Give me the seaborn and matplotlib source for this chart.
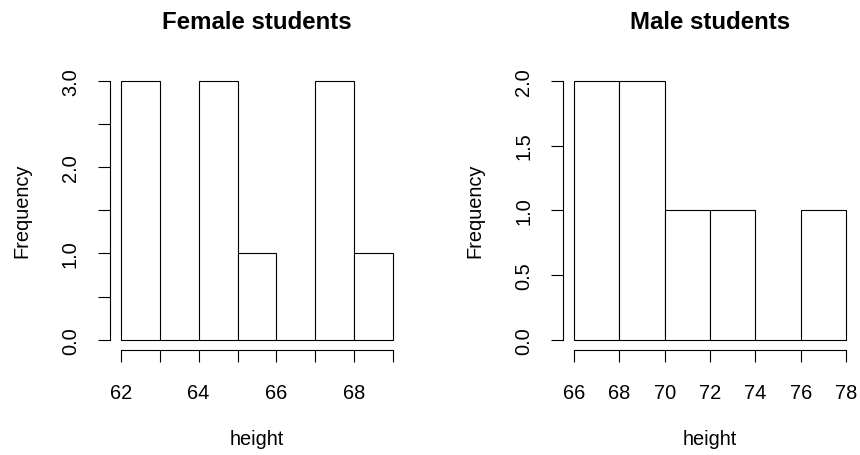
import numpy as np
import pandas as pd
import matplotlib
matplotlib.use("Agg")
import matplotlib.pyplot as plt
import seaborn as sns

# =========================================================
# DATA
# =========================================================

female_edges  = [62, 63, 64, 65, 66, 67, 68, 69]
female_counts = [3, 0, 3, 1, 0, 3, 1]

male_edges  = [66, 68, 70, 72, 74, 76, 78]
male_counts = [2, 2, 1, 1, 0, 1]

female_yticks = [0.0, 0.5, 1.0, 1.5, 2.0, 2.5, 3.0]
female_ylabels = ["0.0", "", "1.0", "", "2.0", "", "3.0"]
female_xticks = [62, 63, 64, 65, 66, 67, 68, 69]
female_xlabels = ["62", "", "64", "", "66", "", "68", ""]

male_yticks = [0.0, 0.5, 1.0, 1.5, 2.0]
male_ylabels = ["0.0", "0.5", "1.0", "1.5", "2.0"]
male_xticks = [66, 68, 70, 72, 74, 76, 78]
male_xlabels = ["66", "68", "70", "72", "74", "76", "78"]

# =========================================================
# STYLE
# =========================================================

sns.set_style("ticks")
plt.rcParams["font.family"] = ["Liberation Sans", "DejaVu Sans"]
plt.rcParams["font.size"] = 14.4
for key in ["text.color", "axes.labelcolor", "xtick.color", "ytick.color",
            "xtick.labelcolor", "ytick.labelcolor"]:
    plt.rcParams[key] = "black"

fig = plt.figure(figsize=(8.6, 4.56), dpi=100)
ax_f = fig.add_axes([0.1279, 0.2303, 0.3419, 0.6127])
ax_m = fig.add_axes([0.6547, 0.2303, 0.3419, 0.6127])


def r_hist(ax, edges, counts, title, yticks, ylabels, xticks, xlabels):
    mids = [(a + b) / 2 for a, b in zip(edges[:-1], edges[1:])]
    df = pd.DataFrame({"height": mids, "n": counts})
    sns.histplot(
        data=df, x="height", weights="n", bins=edges, ax=ax,
        color="white", edgecolor="black", linewidth=0.8, alpha=1,
    )

    # R style: 4% padding, detached axes
    xr = edges[-1] - edges[0]
    yr = max(counts)
    ax.set_xlim(edges[0] - 0.04 * xr, edges[-1] + 0.04 * xr)
    ax.set_ylim(-0.04 * yr, yr * 1.04)

    for s in ["top", "right"]:
        ax.spines[s].set_visible(False)
    ax.spines["left"].set_bounds(yticks[0], yticks[-1])
    ax.spines["bottom"].set_bounds(xticks[0], xticks[-1])
    for s in ["left", "bottom"]:
        ax.spines[s].set_linewidth(0.8)
        ax.spines[s].set_color("black")

    ax.set_xticks(xticks)
    ax.set_xticklabels(xlabels)
    ax.set_yticks(yticks)
    ax.set_yticklabels(ylabels, rotation=90, va="center")
    ax.tick_params(axis="both", length=8.6, width=0.8, color="black",
                   labelcolor="black", labelsize=14.4)
    ax.tick_params(axis="x", pad=15)
    ax.tick_params(axis="y", pad=13)

    ax.set_xlabel("height", fontsize=14.4, color="black")
    ax.xaxis.set_label_coords(0.5, -0.318)
    ax.xaxis.label.set_va("center")
    ax.set_ylabel("Frequency", fontsize=14.4, color="black")
    ax.yaxis.set_label_coords(-0.30, 0.5)
    ax.yaxis.label.set_va("center")

    ax.set_title(title, fontsize=17.3, fontweight="bold", color="black",
                 y=1.1775, va="center", pad=0)


r_hist(ax_f, female_edges, female_counts, "Female students",
       female_yticks, female_ylabels, female_xticks, female_xlabels)
r_hist(ax_m, male_edges, male_counts, "Male students",
       male_yticks, male_ylabels, male_xticks, male_xlabels)

fig.savefig("out.png", dpi=100)
plt.close(fig)
